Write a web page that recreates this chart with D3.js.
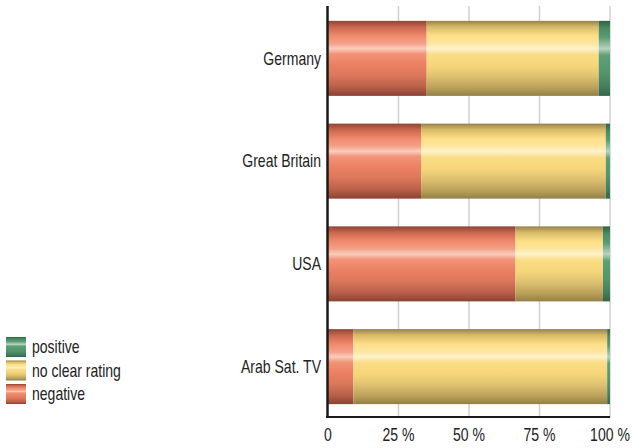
<!DOCTYPE html>
<html>
<head>
<meta charset="utf-8">
<script src="https://cdn.jsdelivr.net/npm/d3@7"></script>
<style>
  body { margin: 0; background: #fff; }
  text { font-family: "Liberation Sans", Arial, sans-serif; fill: #222; }
</style>
</head>
<body>
<div id="chart"></div>
<script>
// Data (percent of coverage)
const countries = ["Germany", "Great Britain", "USA", "Arab Sat. TV"];
const negative = [35, 33, 66.5, 9];
const noClear = [61, 65.5, 31, 90];
const positive = [4, 1.5, 2.5, 1];
const ratings = ["negative", "no clear rating", "positive"];
const legendOrder = ["positive", "no clear rating", "negative"];
const ticks = [0, 25, 50, 75, 100];
const tickLabels = ["0", "25 %", "50 %", "75 %", "100 %"];

const width = 632, height = 448;
const narrow = 0.78; // condensed look for the text

const svg = d3.select("#chart").append("svg")
  .attr("width", width)
  .attr("height", height);

// Shiny cylinder-like gradients
const gradStops = {
  "negative": [
    [0, "#8e4434"], [0.08, "#c8664e"], [0.2, "#f08a6c"], [0.3, "#f4a088"],
    [0.37, "#f9cdbd"], [0.44, "#f29478"], [0.58, "#ec8062"], [0.72, "#dc785c"],
    [0.87, "#bc624a"], [1, "#8c4232"]
  ],
  "no clear rating": [
    [0, "#958048"], [0.08, "#d6ba68"], [0.2, "#fddf86"], [0.3, "#fde6a0"],
    [0.37, "#fdf2cc"], [0.45, "#f9dc84"], [0.6, "#f6d67a"], [0.75, "#dcc070"],
    [0.9, "#b89e58"], [1, "#928046"]
  ],
  "positive": [
    [0, "#2e6446"], [0.1, "#4c8a64"], [0.22, "#5a9c72"], [0.37, "#b6d4bf"],
    [0.46, "#5d9f77"], [0.7, "#55946c"], [0.88, "#447e5c"], [1, "#30664a"]
  ]
};

const defs = svg.append("defs");
ratings.forEach((r, i) => {
  const g = defs.append("linearGradient")
    .attr("id", "grad" + i)
    .attr("x1", 0).attr("y1", 0).attr("x2", 0).attr("y2", 1);
  gradStops[r].forEach(s => {
    g.append("stop").attr("offset", s[0]).attr("stop-color", s[1]);
  });
});
const fillFor = r => `url(#grad${ratings.indexOf(r)})`;

// Scales
const x = d3.scaleLinear().domain([0, 100]).range([328, 610]);
const y = d3.scaleBand()
  .domain(countries)
  .range([7, 418])
  .paddingInner(0.27)
  .paddingOuter(0.135);

// Grid lines
svg.append("g")
  .selectAll("line")
  .data(ticks.slice(1))
  .enter().append("line")
  .attr("x1", d => x(d)).attr("x2", d => x(d))
  .attr("y1", 6).attr("y2", 417)
  .attr("stroke", "#d0d0d0")
  .attr("stroke-width", 1.5);

// Stacked bars
const table = countries.map((c, i) => ({
  country: c,
  "negative": negative[i],
  "no clear rating": noClear[i],
  "positive": positive[i]
}));
const series = d3.stack().keys(ratings)(table);

svg.append("g")
  .selectAll("g")
  .data(series)
  .enter().append("g")
  .attr("fill", d => fillFor(d.key))
  .selectAll("rect")
  .data(d => d)
  .enter().append("rect")
  .attr("x", d => x(d[0]))
  .attr("y", d => y(d.data.country))
  .attr("width", d => x(d[1]) - x(d[0]))
  .attr("height", y.bandwidth());

// Axes lines
svg.append("line")
  .attr("x1", 327.5).attr("x2", 327.5)
  .attr("y1", 6).attr("y2", 418)
  .attr("stroke", "#1a1a1a").attr("stroke-width", 2.5);
svg.append("line")
  .attr("x1", 326).attr("x2", 610)
  .attr("y1", 417).attr("y2", 417)
  .attr("stroke", "#1a1a1a").attr("stroke-width", 2);

// Tick labels
svg.append("g")
  .selectAll("text")
  .data(ticks)
  .enter().append("text")
  .attr("transform", d => `translate(${x(d)}, 440.5) scale(${narrow}, 1)`)
  .attr("text-anchor", "middle")
  .style("font-size", "18px")
  .text((d, i) => tickLabels[i]);

// Category labels
svg.append("g")
  .selectAll("text")
  .data(countries)
  .enter().append("text")
  .attr("transform", d => `translate(321, ${y(d) + y.bandwidth() / 2}) scale(${narrow}, 1)`)
  .attr("dy", "0.35em")
  .attr("text-anchor", "end")
  .style("font-size", "18px")
  .text(d => d);

// Legend
const legend = svg.append("g")
  .selectAll("g")
  .data(legendOrder)
  .enter().append("g")
  .attr("transform", (d, i) => `translate(6, ${337 + i * 23.5})`);

legend.append("rect")
  .attr("width", 20)
  .attr("height", 20)
  .attr("fill", d => fillFor(d));

legend.append("text")
  .attr("transform", `translate(26, 10) scale(${narrow}, 1)`)
  .attr("dy", "0.35em")
  .style("font-size", "18px")
  .text(d => d);
</script>
</body>
</html>
